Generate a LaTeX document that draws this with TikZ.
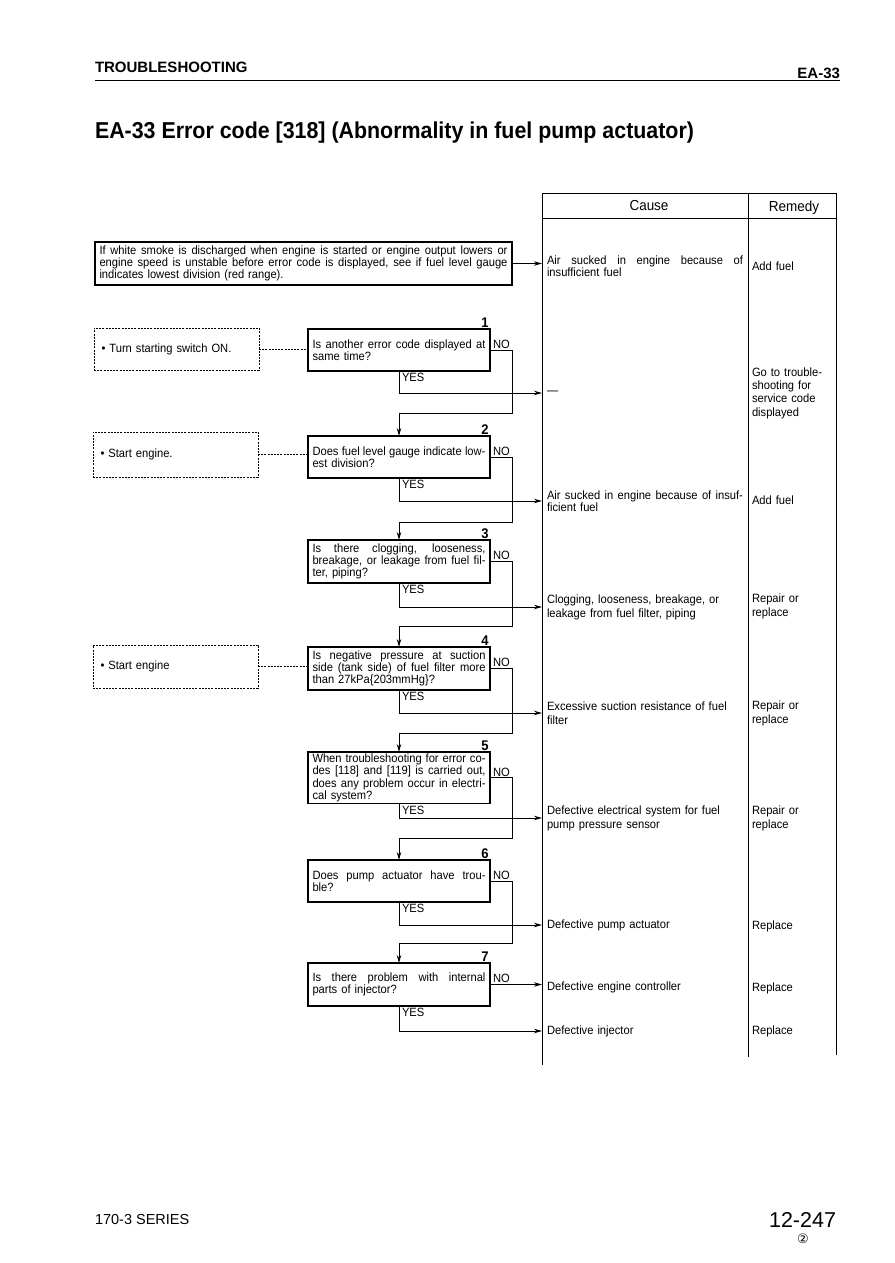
\documentclass[tikz,border=0pt]{standalone}
\usepackage{fontspec}
\setmainfont{Liberation Sans}
\newfontfamily\nar{Liberation Sans}[FakeStretch=0.93]
\newfontfamily\symfont{DejaVu Sans}
\usetikzlibrary{arrows.meta}
\newcommand\jl[1]{\makebox[\hsize][s]{\spaceskip=0pt\xspaceskip=0pt\relax #1}\\}
\begin{document}
\begin{tikzpicture}[x=1pt,y=-1pt,
  every node/.style={inner sep=0pt, outer sep=0pt},
  txt/.style={font=\nar\fontsize{12}{11.8}\selectfont},
  qbox/.style={draw, line width=1.1pt, anchor=north west, text width=173pt, inner xsep=4.5pt, inner ysep=2pt, align=left, txt},
  dbox/.style={draw, line width=0.8pt, dash pattern=on 2pt off 1.2pt, anchor=north west, minimum width=165pt, inner xsep=6pt, align=left, txt, text width=150pt},
  dline/.style={line width=0.8pt, dash pattern=on 2pt off 1.2pt},
  arr/.style={line width=1pt, -{Stealth[length=8pt,width=4.5pt]}},
  cause/.style={anchor=west, text width=196pt, inner xsep=5pt, align=left, txt},
  remedy/.style={anchor=west, text width=80pt, inner xsep=4pt, align=left, txt},
  num/.style={anchor=south east, font=\nar\bfseries\fontsize{14}{14}\selectfont, inner sep=1.5pt},
  nolab/.style={anchor=south west, txt, inner xsep=3pt, inner ysep=1.5pt},
  yeslab/.style={anchor=north west, txt, inner xsep=3pt, inner ysep=2pt},
  tbl/.style={line width=1pt}
]
\useasboundingbox (0,0) rectangle (894,1263);

% header
\node[anchor=base west, font=\bfseries\fontsize{15}{15}\selectfont] (hdl) at (95,72) {TROUBLESHOOTING};
\node[anchor=base east, font=\bfseries\fontsize{15}{15}\selectfont] (hdr) at (840,78) {EA-33};
\draw[line width=1.8pt] (95,80.5) -- (840,80.5);
\node[anchor=base west, font=\nar\bfseries\fontsize{23}{24}\selectfont] (title) at (95,138) {EA-33 Error code [318] (Abnormality in fuel pump actuator)};

% table
\draw[tbl] (542,193) rectangle (836,218);
\draw[tbl] (748,193) -- (748,1057);
\draw[tbl] (542,218) -- (542,1065);
\draw[tbl] (836,218) -- (836,1055);
\node[font=\nar\fontsize{14.5}{14}\selectfont] (hcause) at (649,206) {Cause};
\node[font=\nar\fontsize{14.5}{14}\selectfont] (hremedy) at (794,208) {Remedy};

% top box
\node[draw, line width=1.1pt, anchor=north west, text width=408pt, inner xsep=4.5pt, inner ysep=2pt, minimum height=43pt, align=left, txt] (top) at (95,242)
 {\jl{If white smoke is discharged when engine is started or engine output lowers or}\jl{engine speed is unstable before error code is displayed, see if fuel level gauge}indicates lowest division (red range).};
\node[cause] (c0) at (542,266) {\jl{Air sucked in engine because of}insufficient fuel};
\node[remedy] (r0) at (748,266) {Add fuel};
\draw[arr] (top.east) -- (c0.west |- top.east);

% question boxes
\node[qbox, minimum height=42pt] (q1) at (308,329) {\jl{Is another error code displayed at}same time?};
\node[qbox, minimum height=42pt] (q2) at (308,436) {\jl{Does fuel level gauge indicate low-}est division?};
\node[qbox, minimum height=43pt] (q3) at (308,540) {\jl{Is there clogging, looseness,}\jl{breakage, or leakage from fuel fil-}ter, piping?};
\node[qbox, minimum height=43pt] (q4) at (308,647) {\jl{Is negative pressure at suction}\jl{side (tank side) of fuel filter more}than 27kPa\{203mmHg\}?};
\node[qbox, minimum height=46pt, font=\nar\fontsize{12}{10.8}\selectfont] (q5) at (308,752) {\jl{When troubleshooting for error co-}\jl{des [118] and [119] is carried out,}\jl{does any problem occur in electri-}cal system?};
\node[qbox, minimum height=42pt] (q6) at (308,860) {\jl{Does pump actuator have trou-}ble?};
\node[qbox, minimum height=43pt] (q7) at (308,963) {\jl{Is there problem with internal}parts of injector?};

\foreach \i in {1,...,7} {
  \node[num] (n\i) at (q\i.north east) {\i};
  \node[nolab] (no\i) at (q\i.east) {NO};
  \node[yeslab] (yes\i) at (q\i.south) {YES};
}

% dashed condition boxes
\node[dbox, minimum height=42pt] (d1) at (94,328) {• Turn starting switch ON.};
\node[dbox, minimum height=45pt] (d2) at (93,432) {• Start engine.};
\node[dbox, minimum height=43pt] (d3) at (93,645) {• Start engine};
\draw[dline] (d1.east) -- (d1.east -| q1.west);
\draw[dline] (d2.east) -- (d2.east -| q2.west);
\draw[dline] (d3.east) -- (d3.east -| q4.west);

% causes / remedies
\node[cause] (c1) at (542,393) {—};
\node[remedy, font=\nar\fontsize{12}{13.3}\selectfont] (r1) at (748,393) {Go to trouble-\\shooting for\\service code\\displayed};
\node[cause] (c2) at (542,501) {\jl{Air sucked in engine because of insuf-}ficient fuel};
\node[remedy] (r2) at (748,500) {Add fuel};
\node[cause, font=\nar\fontsize{12}{14}\selectfont] (c3) at (542,607) {Clogging, looseness, breakage, or\\leakage from fuel filter, piping};
\node[remedy, font=\nar\fontsize{12}{14}\selectfont] (r3) at (748,606) {Repair or\\replace};
\node[cause, font=\nar\fontsize{12}{13.5}\selectfont] (c4) at (542,713) {Excessive suction resistance of fuel\\filter};
\node[remedy, font=\nar\fontsize{12}{14}\selectfont] (r4) at (748,713) {Repair or\\replace};
\node[cause, font=\nar\fontsize{12}{14}\selectfont] (c5) at (542,818) {Defective electrical system for fuel\\pump pressure sensor};
\node[remedy, font=\nar\fontsize{12}{14}\selectfont] (r5) at (748,818) {Repair or\\replace};
\node[cause] (c6) at (542,925) {Defective pump actuator};
\node[remedy] (r6) at (748,926) {Replace};
\node[cause] (c7) at (542,987) {Defective engine controller};
\node[remedy] (r7) at (748,988) {Replace};
\node[cause] (c8) at (542,1031) {Defective injector};
\node[remedy] (r8) at (748,1031) {Replace};

% NO connectors (to next question)
\coordinate (k1) at (512,413);
\coordinate (k2) at (512,522);
\coordinate (k3) at (512,626);
\coordinate (k4) at (512,733);
\coordinate (k5) at (512,838);
\coordinate (k6) at (512,943);
\draw[arr] (q1.east) -| (k1) -| (q2.north);
\draw[arr] (q2.east) -| (k2) -| (q3.north);
\draw[arr] (q3.east) -| (k3) -| (q4.north);
\draw[arr] (q4.east) -| (k4) -| (q5.north);
\draw[arr] (q5.east) -| (k5) -| (q6.north);
\draw[arr] (q6.east) -| (k6) -| (q7.north);
\draw[arr] (q7.east) -- (c7.west |- q7.east);

% YES connectors
\draw[arr] (q1.south) |- (c1.west);
\draw[arr] (q2.south) |- (c2.west);
\draw[arr] (q3.south) |- (c3.west);
\draw[arr] (q4.south) |- (c4.west);
\draw[arr] (q5.south) |- (c5.west);
\draw[arr] (q6.south) |- (c6.west);
\draw[arr] (q7.south) |- (c8.west);

% footer
\node[anchor=base west, font=\fontsize{14.5}{14}\selectfont] (ser) at (95,1224) {170-3 SERIES};
\node[anchor=base east, font=\fontsize{21.5}{20}\selectfont] (pg) at (836,1227) {12-247};
\node[font=\symfont\fontsize{13}{13}\selectfont] (rev) at (803,1239) {②};
\end{tikzpicture}
\end{document}
